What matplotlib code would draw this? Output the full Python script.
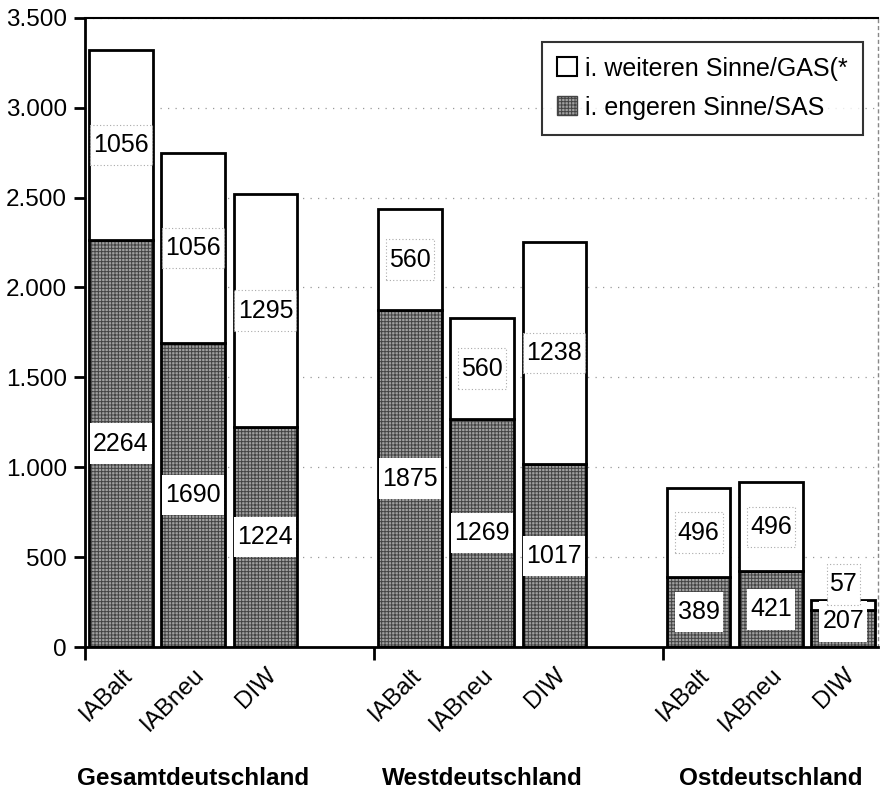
import numpy as np
import matplotlib.pyplot as plt
from matplotlib.patches import Patch, Rectangle
from matplotlib.ticker import FuncFormatter

plt.rcParams['font.family'] = ['Liberation Sans', 'DejaVu Sans']
plt.rcParams['hatch.linewidth'] = 0.7
plt.rcParams['hatch.color'] = '#444444'

groups = ['Gesamtdeutschland', 'Westdeutschland', 'Ostdeutschland']
sources = ['IABalt', 'IABneu', 'DIW']

# i. engeren Sinne / SAS (bottom), i. weiteren Sinne / GAS (top)
sas = [2264, 1690, 1224, 1875, 1269, 1017, 389, 421, 207]
gas = [1056, 1056, 1295, 560, 560, 1238, 496, 496, 57]

sas = np.array(sas)
gas = np.array(gas)

# bar slots: three per group, one empty slot between groups
pos = np.array([g * 4 + i for g in range(len(groups)) for i in range(len(sources))])
labels = sources * len(groups)

fig = plt.figure(figsize=(8.84, 8.02), dpi=100)
ax = fig.add_axes([0.096, 0.193, 0.897, 0.785])

w = 0.88
gray = '#a0a0a0'
# bottom segments: grey with fine grid texture
ax.bar(pos, sas, w, color=gray, hatch='+++++', edgecolor='#444444', linewidth=0, zorder=2)
ax.bar(pos, sas, w, fill=False, edgecolor='black', linewidth=2, zorder=3)
# top segments: white
ax.bar(pos, gas, w, bottom=sas, color='white', edgecolor='black', linewidth=2, zorder=3)


def label(x, y, val, edge):
    s = str(val)
    bw, bh = 0.2 * len(s) + 0.06, 225
    ax.add_patch(Rectangle((x - bw / 2, y - bh / 2), bw, bh, facecolor='white',
                           edgecolor=edge, linestyle=(0, (1, 2)), linewidth=0.8, zorder=4))
    ax.text(x, y, s, ha='center', va='center', fontsize=18, zorder=5)


for x, b, t in zip(pos, sas, gas):
    yb = b / 2
    yt = b + t / 2
    if t < 150:
        # small segment: label pushed above the bar
        yt = b + t + 85
        yb = b / 2 + 40
    label(x, yb, b, 'none')
    label(x, yt, t, '#aaaaaa')

ax.set_xlim(-0.48, 10.48)
ax.set_ylim(0, 3500)
ax.set_yticks(np.arange(0, 3501, 500))
ax.yaxis.set_major_formatter(FuncFormatter(lambda v, p: f'{int(v):,}'.replace(',', '.')))
ax.grid(axis='y', color='#999999', linestyle=(0, (1, 5)), linewidth=0.9, zorder=0)
ax.set_axisbelow(True)

ax.set_xticks([-0.5, 3.5, 7.5])
ax.set_xticklabels([])
ax.tick_params(axis='x', which='major', length=9, width=2, direction='out')
ax.set_xticks(pos, minor=True)
ax.set_xticklabels(labels, minor=True, rotation=45, ha='right', va='top',
                   rotation_mode='anchor', fontsize=17.5)
ax.tick_params(axis='x', which='minor', length=0, pad=12)
ax.tick_params(axis='y', length=8, width=2, labelsize=17.5, pad=5)

ax.spines['left'].set_linewidth(2)
ax.spines['bottom'].set_linewidth(2)
ax.spines['top'].set_linewidth(1.5)
ax.spines['right'].set_color('#888888')
ax.spines['right'].set_linestyle((0, (2, 3)))
ax.spines['right'].set_linewidth(1)

for g, name in enumerate(groups):
    ax.text(g * 4 + 1, -0.208, name, transform=ax.get_xaxis_transform(),
            ha='center', va='center', fontsize=17.5, fontweight='bold')

handles = [Patch(facecolor='white', edgecolor='black', linewidth=1.5),
           Patch(facecolor=gray, edgecolor='#444444', hatch='+++++', linewidth=1)]
leg = ax.legend(handles, ['i. weiteren Sinne/GAS(*', 'i. engeren Sinne/SAS'],
                loc='upper right', bbox_to_anchor=(0.981, 0.962), fontsize=18,
                frameon=True, fancybox=False, handlelength=0.8, handleheight=0.8,
                handletextpad=0.3, borderpad=0.6, labelspacing=0.6, borderaxespad=0)
leg.get_frame().set_edgecolor('black')
leg.get_frame().set_linewidth(1.5)

fig.savefig('out.png', dpi=100)
